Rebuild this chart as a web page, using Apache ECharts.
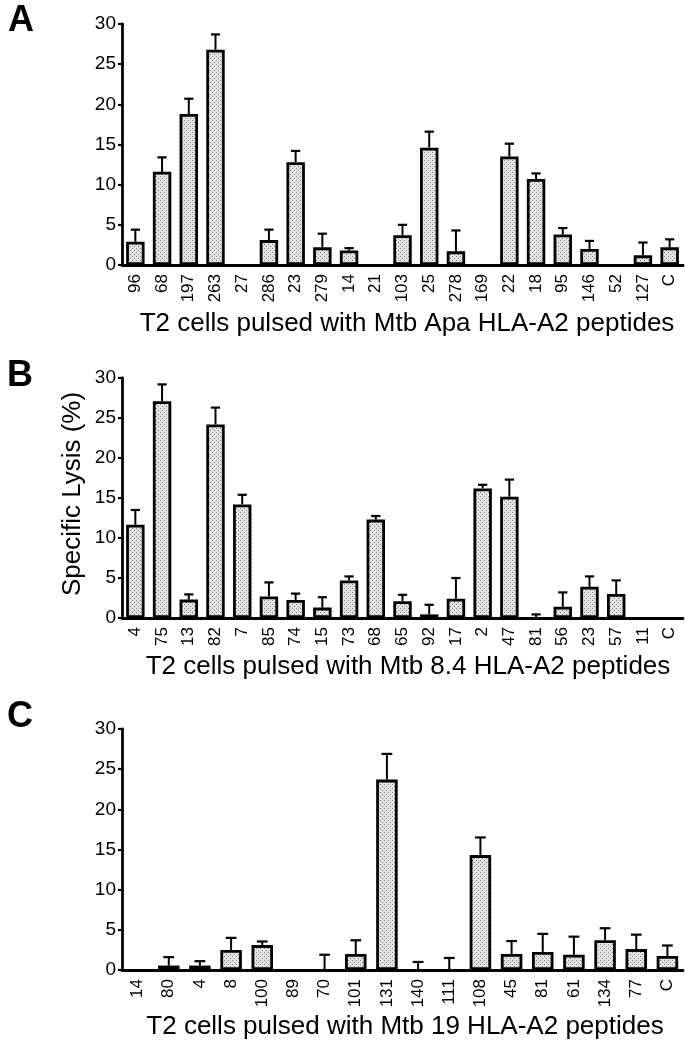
<!DOCTYPE html>
<html>
<head>
<meta charset="utf-8">
<script src="https://cdn.jsdelivr.net/npm/echarts@6/dist/echarts.min.js"></script>
<style>
html,body{margin:0;padding:0;background:#fff;}
#c{width:685px;height:1046px;}
</style>
</head>
<body>
<div id="c"></div>
<script>
// ---- Data ----
const catA = ['96','68','197','263','27','286','23','279','14','21','103','25','278','169','22','18','95','146','52','127','C'];
const valA = [2.9, 11.6, 18.8, 26.8, 0, 3.1, 12.8, 2.2, 1.8, 0, 3.7, 14.6, 1.7, 0, 13.5, 10.7, 3.8, 2.0, 0, 1.2, 2.2];
const errA = [1.5, 1.8, 1.9, 1.9, 0, 1.3, 1.4, 1.7, 0.3, 0, 1.3, 2.0, 2.6, 0, 1.6, 0.7, 0.8, 1.0, 0, 1.6, 1.0];

const catB = ['4','75','13','82','7','85','74','15','73','68','65','92','17','2','47','81','56','23','57','11','C'];
const valB = [11.65, 27.1, 2.3, 24.2, 14.2, 2.7, 2.25, 1.3, 4.7, 12.3, 2.1, 0.45, 2.4, 16.2, 15.15, 0, 1.4, 3.9, 3.0, 0, 0];
const errB = [1.85, 2.1, 0.65, 2.1, 1.2, 1.75, 0.8, 1.3, 0.5, 0.45, 0.8, 1.2, 2.6, 0.45, 2.15, 0.45, 1.8, 1.3, 1.7, 0, 0];

const catC = ['14','80','4','8','100','89','70','101','131','140','111','108','45','81','61','134','77','C'];
const valC = [0, 0.55, 0.55, 2.5, 3.1, 0, 0, 2.0, 23.7, 0, 0, 14.3, 2.0, 2.25, 1.9, 3.7, 2.6, 1.75];
const errC = [0, 1.05, 0.55, 1.5, 0.45, 0, 1.9, 1.7, 3.2, 1.0, 1.5, 2.2, 1.6, 2.25, 2.25, 1.5, 1.8, 1.3];

const yTicks = {min: 0, max: 30, interval: 5};
const titleA = 'T2 cells pulsed with Mtb Apa HLA-A2 peptides';
const titleB = 'T2 cells pulsed with Mtb 8.4 HLA-A2 peptides';
const titleC = 'T2 cells pulsed with Mtb 19 HLA-A2 peptides';
const yName = 'Specific Lysis (%)';

// ---- Styles ----
const FONT = '"Liberation Sans", Arial, Helvetica, sans-serif';
const pat = document.createElement('canvas');
pat.width = 4; pat.height = 4;
(function(){
  const g = pat.getContext('2d');
  g.fillStyle = '#e2e2e2'; g.fillRect(0,0,4,4);
  g.fillStyle = '#858585';
  g.fillRect(0,0,1,1); g.fillRect(2,2,1,1);
})();

const grids = [
  {left:122, top:24, width:561, height:241},
  {left:122, top:378, width:561, height:240},
  {left:122, top:729, width:561, height:241}
];
const sets = [[catA,valA,errA],[catB,valB,errB],[catC,valC,errC]];
const BARW = 0.69;

function renderErr(params, api){
  const i = api.value(0), v = api.value(1), e = api.value(2);
  if (!(e > 0)) return null;
  const p0 = api.coord([i, v]);
  const p1 = api.coord([i, v + e]);
  const w = api.size([1, 0])[0] * BARW * 0.5;
  return {type:'group', children:[
    {type:'line', shape:{x1:p0[0], y1:p0[1], x2:p1[0], y2:p1[1]}, style:{stroke:'#000', lineWidth:2}},
    {type:'line', shape:{x1:p1[0]-w/2, y1:p1[1], x2:p1[0]+w/2, y2:p1[1]}, style:{stroke:'#000', lineWidth:2.2}}
  ]};
}

const xAxis = [], yAxis = [], series = [];
sets.forEach(function(s, k){
  xAxis.push({
    type:'category', gridIndex:k, data:s[0], boundaryGap:true,
    axisLine:{lineStyle:{color:'#000', width:2.8}},
    axisTick:{alignWithLabel:true, length:6, lineStyle:{color:'#000', width:2.2}},
    axisLabel:{rotate:90, interval:0, margin:9, color:'#000', fontSize:17, fontFamily:FONT},
    splitLine:{show:false}
  });
  yAxis.push({
    type:'value', gridIndex:k, min:yTicks.min, max:yTicks.max, interval:yTicks.interval,
    axisLine:{show:true, lineStyle:{color:'#000', width:2.8}},
    axisTick:{show:true, length:4, lineStyle:{color:'#000', width:2.2}},
    axisLabel:{margin:6, color:'#000', fontSize:19, fontFamily:FONT},
    splitLine:{show:false}
  });
  series.push({
    type:'bar', xAxisIndex:k, yAxisIndex:k,
    data:s[1].map(function(v){ return v > 0 ? v : null; }),
    barWidth:(BARW*100)+'%',
    itemStyle:{color:{image:pat, repeat:'repeat'}, borderColor:'#000', borderWidth:2.8},
    silent:true, animation:false
  });
  series.push({
    type:'custom', xAxisIndex:k, yAxisIndex:k, renderItem:renderErr,
    data:s[1].map(function(v,i){ return [i, v, s[2][i]]; }),
    encode:{x:0, y:1}, silent:true, animation:false, z:3
  });
});

const txt = function(t, x, y, size, weight, rot){
  return {type:'text', x:x, y:y, rotation:rot||0, silent:true,
    style:{text:t, fill:'#000', font:(weight||'normal')+' '+size+'px '+FONT, textAlign:'center', textVerticalAlign:'middle'}};
};

const chart = echarts.init(document.getElementById('c'), null, {renderer:'canvas'});
chart.setOption({
  backgroundColor:'#fff',
  animation:false,
  grid:grids,
  xAxis:xAxis,
  yAxis:yAxis,
  series:series,
  graphic:[
    txt('A', 21, 21, 36, 'bold'),
    txt('B', 20, 376, 36, 'bold'),
    txt('C', 20, 717, 36, 'bold'),
    txt(titleA, 407, 324, 26),
    txt(titleB, 408, 667, 26),
    txt(titleC, 405, 1027, 26),
    txt(yName, 73, 494, 26, 'normal', Math.PI/2)
  ]
});
</script>
</body>
</html>
